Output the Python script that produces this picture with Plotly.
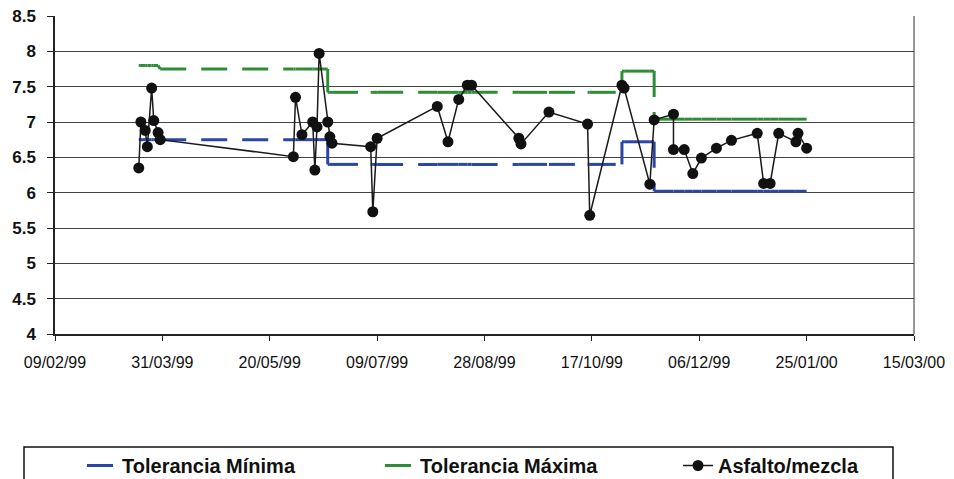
import plotly.graph_objects as go

# ---- datos ----
fechas = [
    "1999-03-20", "1999-03-21", "1999-03-23", "1999-03-24", "1999-03-26", "1999-03-27",
    "1999-03-29", "1999-03-30",
    "1999-05-31", "1999-06-01", "1999-06-04", "1999-06-09", "1999-06-10", "1999-06-11",
    "1999-06-12", "1999-06-16", "1999-06-17", "1999-06-18",
    "1999-07-06", "1999-07-07", "1999-07-09",
    "1999-08-06", "1999-08-11", "1999-08-16", "1999-08-20", "1999-08-22",
    "1999-09-13", "1999-09-14", "1999-09-27",
    "1999-10-15", "1999-10-16", "1999-10-31", "1999-11-01", "1999-11-13", "1999-11-15",
    "1999-11-24", "1999-11-24", "1999-11-29", "1999-12-03", "1999-12-07", "1999-12-14",
    "1999-12-21",
    "2000-01-02", "2000-01-05", "2000-01-08", "2000-01-12", "2000-01-20", "2000-01-21",
    "2000-01-25",
]
asfalto = [
    6.35, 7.00, 6.88, 6.65, 7.48, 7.02,
    6.85, 6.75,
    6.51, 7.35, 6.82, 7.00, 6.32, 6.93,
    7.97, 7.00, 6.79, 6.70,
    6.65, 5.73, 6.77,
    7.22, 6.72, 7.32, 7.52, 7.52,
    6.77, 6.69, 7.14,
    6.97, 5.68, 7.52, 7.48, 6.12, 7.03,
    7.11, 6.61, 6.61, 6.27, 6.49, 6.63,
    6.74,
    6.84, 6.13, 6.13, 6.84, 6.72, 6.84,
    6.63,
]

tol_fechas = [
    "1999-03-20", "1999-03-21", "1999-03-23", "1999-03-24", "1999-03-26", "1999-03-27",
    "1999-03-29", "1999-03-30",
    "1999-05-31", "1999-06-01", "1999-06-04", "1999-06-09", "1999-06-10", "1999-06-11",
    "1999-06-12", "1999-06-16", "1999-06-16", "1999-06-17", "1999-06-18",
    "1999-07-06", "1999-07-07", "1999-07-09",
    "1999-08-06", "1999-08-11", "1999-08-16", "1999-08-20", "1999-08-22",
    "1999-09-13", "1999-09-14", "1999-09-27",
    "1999-10-15", "1999-10-16", "1999-10-31", "1999-10-31", "1999-11-01", "1999-11-13",
    "1999-11-15", "1999-11-15",
    "1999-11-24", "1999-11-29", "1999-12-03", "1999-12-07", "1999-12-14", "1999-12-21",
    "2000-01-02", "2000-01-05", "2000-01-08", "2000-01-12", "2000-01-20", "2000-01-21",
    "2000-01-25",
]
tol_min = [
    6.75, 6.75, 6.75, 6.75, 6.75, 6.75,
    6.75, 6.75,
    6.75, 6.75, 6.75, 6.75, 6.75, 6.75,
    6.75, 6.75, 6.40, 6.40, 6.40,
    6.40, 6.40, 6.40,
    6.40, 6.40, 6.40, 6.40, 6.40,
    6.40, 6.40, 6.40,
    6.40, 6.40, 6.40, 6.72, 6.72, 6.72,
    6.72, 6.02,
    6.02, 6.02, 6.02, 6.02, 6.02, 6.02,
    6.02, 6.02, 6.02, 6.02, 6.02, 6.02,
    6.02,
]
tol_max = [
    7.80, 7.80, 7.80, 7.80, 7.80, 7.80,
    7.80, 7.75,
    7.75, 7.75, 7.75, 7.75, 7.75, 7.75,
    7.75, 7.75, 7.42, 7.42, 7.42,
    7.42, 7.42, 7.42,
    7.42, 7.42, 7.42, 7.42, 7.42,
    7.42, 7.42, 7.42,
    7.42, 7.42, 7.42, 7.72, 7.72, 7.72,
    7.72, 7.04,
    7.04, 7.04, 7.04, 7.04, 7.04, 7.04,
    7.04, 7.04, 7.04, 7.04, 7.04, 7.04,
    7.04,
]

tick_fechas = ["1999-02-09", "1999-03-31", "1999-05-20", "1999-07-09", "1999-08-28",
               "1999-10-17", "1999-12-06", "2000-01-25", "2000-03-15"]
tick_textos = ["09/02/99", "31/03/99", "20/05/99", "09/07/99", "28/08/99",
               "17/10/99", "06/12/99", "25/01/00", "15/03/00"]
y_ticks = [4, 4.5, 5, 5.5, 6, 6.5, 7, 7.5, 8, 8.5]
y_textos = ["4", "4.5", "5", "5.5", "6", "6.5", "7", "7.5", "8", "8.5"]


def por_tramos(xs, ys):
    """Each consecutive pair is its own sub-path so the dash pattern restarts
    on every segment (as the original spreadsheet chart does)."""
    px, py = [], []
    for i in range(len(xs) - 1):
        px += [xs[i], xs[i + 1], None]
        py += [ys[i], ys[i + 1], None]
    return px, py


AZUL = "#2c46a6"
VERDE = "#2f8d38"
DASH = "26px,15px"

fig = go.Figure()

bx, by = por_tramos(tol_fechas, tol_min)
fig.add_trace(go.Scatter(
    x=bx, y=by, mode="lines", name="Tolerancia Mínima",
    line=dict(color=AZUL, width=3, dash=DASH), connectgaps=False,
))
gx, gy = por_tramos(tol_fechas, tol_max)
fig.add_trace(go.Scatter(
    x=gx, y=gy, mode="lines", name="Tolerancia Máxima",
    line=dict(color=VERDE, width=3, dash=DASH), connectgaps=False,
))
fig.add_trace(go.Scatter(
    x=fechas, y=asfalto, mode="lines+markers", name="Asfalto/mezcla",
    line=dict(color="#1a1a1a", width=1.5),
    marker=dict(color="#111111", size=11, symbol="circle"),
))

# the page body has an 8px margin: work in figure coordinates = screen - 8
OFF = 8
W, H = 954 - OFF, 479 - OFF
PL, PR, PT, PB = 55 - OFF, 914 - OFF, 16 - OFF, 334 - OFF
pw, ph = PR - PL, PB - PT

# legend frame
fig.add_shape(
    type="rect", xref="paper", yref="paper",
    x0=(24 - OFF - PL) / pw, x1=(893 - OFF - PL) / pw,
    y0=(PB - (447 - OFF)) / ph, y1=(PB - (520 - OFF)) / ph,
    line=dict(color="#111111", width=1.5), fillcolor="rgba(0,0,0,0)",
)

fig.update_layout(
    width=W, height=H,
    margin=dict(l=PL, r=W - PR, t=PT, b=H - PB, autoexpand=False),
    paper_bgcolor="white", plot_bgcolor="white",
    font=dict(family="Liberation Sans, Arial, sans-serif", color="#111111"),
    showlegend=True,
    legend=dict(
        orientation="h", x=(54 - OFF - PL) / pw, xanchor="left",
        y=(PB - (446 - OFF)) / ph, yanchor="top",
        font=dict(family="Liberation Sans, Arial, sans-serif",
                  size=20, color="#111111", weight="bold"),
        indentation=28,
        entrywidth=225, entrywidthmode="pixels",
        bgcolor="rgba(0,0,0,0)", borderwidth=0,
        tracegroupgap=0,
    ),
    xaxis=dict(
        type="date", range=["1999-02-09", "2000-03-15"],
        tickmode="array", tickvals=tick_fechas, ticktext=tick_textos,
        showgrid=False, showline=True, linecolor="#222222", linewidth=1.5,
        mirror=False, ticks="outside", ticklen=5, tickcolor="#222222",
        tickfont=dict(size=16, color="#111111"), ticklabelstandoff=8,
        ticklabeloverflow="allow", zeroline=False,
    ),
    yaxis=dict(
        range=[4, 8.5], tickmode="array", tickvals=y_ticks, ticktext=y_textos,
        showgrid=True, gridcolor="#444444", gridwidth=1,
        showline=True, linecolor="#222222", linewidth=1.5, mirror=False,
        ticks="outside", ticklen=6, tickcolor="#222222",
        tickfont=dict(size=17, color="#111111", weight="bold"), ticklabelstandoff=8,
        ticklabeloverflow="allow", zeroline=False,
    ),
)
# right border of plot area
fig.add_shape(type="line", xref="paper", yref="paper", x0=1, x1=1, y0=0, y1=1,
              line=dict(color="#333333", width=1))

fig.write_html("out.html")
